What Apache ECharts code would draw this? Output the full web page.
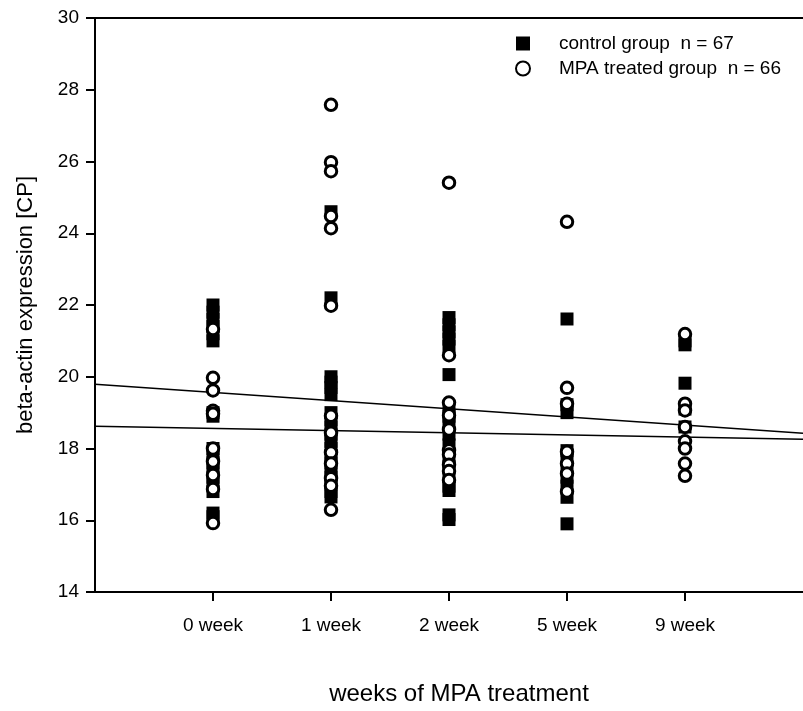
<!DOCTYPE html>
<html>
<head>
<meta charset="utf-8">
<script src="https://cdn.jsdelivr.net/npm/echarts@6/dist/echarts.min.js"></script>
<style>
html,body{margin:0;padding:0;background:#fff;}
#chart{width:803px;height:711px;}
</style>
</head>
<body>
<div id="chart"></div>
<script>
// Category labels placed at x positions 1..5
const categories = ['0 week', '1 week', '2 week', '5 week', '9 week'];
const yTicks = [14, 16, 18, 20, 22, 24, 26, 28, 30];

// Control group values per week
const control0 = [22.0, 21.8, 21.6, 21.4, 21.2, 21.0, 19.0, 18.9, 18.0, 17.8, 17.6, 17.4, 17.2, 17.0, 16.8, 16.2, 16.1];
const control1 = [24.6, 22.2, 20.0, 19.85, 19.7, 19.5, 19.0, 18.8, 18.6, 18.4, 18.2, 18.0, 17.8, 17.6, 17.4, 17.2, 17.0, 16.8, 16.65];
const control2 = [21.65, 21.45, 21.25, 21.05, 20.85, 20.06, 19.1, 18.9, 18.7, 18.4, 18.1, 17.8, 17.5, 17.2, 16.95, 16.83, 16.15, 16.02];
const control5 = [21.61, 19.22, 19.0, 17.94, 17.7, 17.45, 17.2, 16.95, 16.64, 15.9];
const control9 = [21.0, 20.89, 19.82, 19.1, 18.6];

// MPA treated group values per week
const mpa0 = [21.33, 19.97, 19.62, 19.05, 18.97, 18.0, 17.64, 17.26, 16.87, 15.92];
const mpa1 = [27.58, 25.98, 25.73, 24.48, 24.14, 21.98, 18.91, 18.44, 17.89, 17.58, 17.17, 16.96, 16.29];
const mpa2 = [25.41, 20.6, 19.28, 18.93, 18.53, 17.95, 17.83, 17.55, 17.37, 17.12];
const mpa5 = [24.32, 19.69, 19.25, 17.91, 17.58, 17.3, 16.8];
const mpa9 = [21.19, 19.25, 19.06, 18.6, 18.2, 18.0, 17.58, 17.24];

// Regression lines: intercept at x=0 and slope per unit
const trendIntercepts = [19.79, 18.62];
const trendSlopes = [-0.227, -0.06];
const xRange = [0, 6];

const controlGroups = [control0, control1, control2, control5, control9];
const mpaGroups = [mpa0, mpa1, mpa2, mpa5, mpa9];

function toPoints(groups) {
  const pts = [];
  groups.forEach((g, i) => g.forEach(v => pts.push([i + 1, v])));
  return pts;
}

const font = 'Liberation Sans, Arial, sans-serif';

const lineSeries = trendIntercepts.map((b, i) => ({
  type: 'line',
  name: 'trend' + i,
  data: xRange.map(x => [x, b + trendSlopes[i] * x]),
  symbol: 'none',
  lineStyle: { color: '#000', width: 1.5 },
  silent: true,
  z: 1
}));

const chart = echarts.init(document.getElementById('chart'));
chart.setOption({
  animation: false,
  backgroundColor: '#fff',
  grid: { left: 95, top: 18, right: -3, bottom: 118 },
  legend: {
    orient: 'vertical',
    left: 510,
    top: 29,
    itemWidth: 14,
    itemHeight: 14,
    itemGap: 6,
    data: ['control group  n = 67', 'MPA treated group  n = 66'],
    textStyle: { fontFamily: font, fontSize: 19, color: '#000', padding: [0, 0, 0, 24] }
  },
  xAxis: [{
    type: 'value',
    min: xRange[0], max: xRange[1], interval: 1,
    splitLine: { show: false },
    axisLine: { lineStyle: { color: '#000', width: 2 } },
    axisTick: { show: true, length: 9, lineStyle: { color: '#000', width: 2 }, customValues: [1, 2, 3, 4, 5] },
    axisLabel: {
      customValues: [1, 2, 3, 4, 5],
      formatter: v => categories[v - 1] || '',
      fontFamily: font, fontSize: 19, color: '#000', margin: 24
    },
    name: 'weeks of MPA treatment',
    nameLocation: 'middle',
    nameGap: 90,
    nameTextStyle: { fontFamily: font, fontSize: 24, color: '#000', padding: [0, 0, 0, 20] }
  }, {
    type: 'value', position: 'top',
    min: xRange[0], max: xRange[1],
    axisLine: { show: true, lineStyle: { color: '#000', width: 2 } },
    axisTick: { show: false }, axisLabel: { show: false }, splitLine: { show: false }
  }],
  yAxis: {
    type: 'value',
    min: yTicks[0], max: yTicks[yTicks.length - 1], interval: 2,
    splitLine: { show: false },
    axisLine: { show: true, lineStyle: { color: '#000', width: 2 } },
    axisTick: { show: true, length: 9, lineStyle: { color: '#000', width: 2 } },
    axisLabel: { fontFamily: font, fontSize: 19, color: '#000', margin: 16 },
    name: 'beta-actin expression [CP]',
    nameLocation: 'middle',
    nameGap: 58,
    nameTextStyle: { fontFamily: font, fontSize: 22, color: '#000' }
  },
  series: [
    ...lineSeries,
    {
      type: 'scatter',
      name: 'control group  n = 67',
      data: toPoints(controlGroups),
      symbol: 'rect',
      symbolSize: 13,
      itemStyle: { color: '#000', opacity: 1 },
      z: 2
    },
    {
      type: 'scatter',
      name: 'MPA treated group  n = 66',
      data: toPoints(mpaGroups),
      symbol: 'circle',
      symbolSize: 11.5,
      itemStyle: { color: '#fff', borderColor: '#000', borderWidth: 3, opacity: 1 },
      z: 3
    }
  ]
});
</script>
</body>
</html>
